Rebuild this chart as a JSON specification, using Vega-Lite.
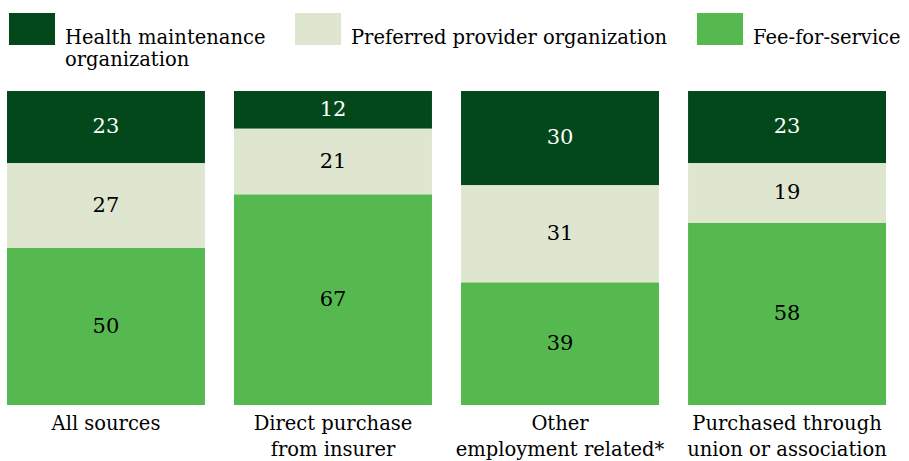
{
  "$schema": "https://vega.github.io/schema/vega-lite/v6.json",
  "width": 879,
  "height": 314,
  "autosize": {"type": "none"},
  "padding": {"left": 7, "top": 91, "right": 23, "bottom": 56},
  "config": {"view": {"stroke": null}, "font": "DejaVu Serif"},
  "data": {
    "values": [
      {"source": "All sources", "type": "Health maintenance organization", "rank": 3, "pct": 23},
      {"source": "All sources", "type": "Preferred provider organization", "rank": 2, "pct": 27},
      {"source": "All sources", "type": "Fee-for-service", "rank": 1, "pct": 50},
      {"source": "Direct purchase from insurer", "type": "Health maintenance organization", "rank": 3, "pct": 12},
      {"source": "Direct purchase from insurer", "type": "Preferred provider organization", "rank": 2, "pct": 21},
      {"source": "Direct purchase from insurer", "type": "Fee-for-service", "rank": 1, "pct": 67},
      {"source": "Other employment related*", "type": "Health maintenance organization", "rank": 3, "pct": 30},
      {"source": "Other employment related*", "type": "Preferred provider organization", "rank": 2, "pct": 31},
      {"source": "Other employment related*", "type": "Fee-for-service", "rank": 1, "pct": 39},
      {"source": "Purchased through union or association", "type": "Health maintenance organization", "rank": 3, "pct": 23},
      {"source": "Purchased through union or association", "type": "Preferred provider organization", "rank": 2, "pct": 19},
      {"source": "Purchased through union or association", "type": "Fee-for-service", "rank": 1, "pct": 58}
    ]
  },
  "transform": [
    {"stack": "pct", "groupby": ["source"], "sort": [{"field": "rank", "order": "ascending"}], "as": ["y0", "y1"]}
  ],
  "encoding": {
    "x": {
      "field": "source",
      "type": "nominal",
      "sort": ["All sources", "Direct purchase from insurer", "Other employment related*", "Purchased through union or association"],
      "scale": {"paddingInner": 0.128, "paddingOuter": 0},
      "axis": {
        "title": null,
        "domain": false,
        "ticks": false,
        "labelAngle": 0,
        "labelFont": "DejaVu Serif",
        "labelFontSize": 19.5,
        "labelColor": "black",
        "labelPadding": 9,
        "labelBaseline": "top",
        "labelLineHeight": 26,
        "labelLimit": 0,
        "labelOverlap": false,
        "labelExpr": "datum.label == 'Direct purchase from insurer' ? ['Direct purchase','from insurer'] : datum.label == 'Other employment related*' ? ['Other','employment related*'] : datum.label == 'Purchased through union or association' ? ['Purchased through','union or association'] : datum.label"
      }
    }
  },
  "layer": [
    {
      "mark": {"type": "bar"},
      "encoding": {
        "y": {"field": "y1", "type": "quantitative", "scale": {"domain": [0, 100]}, "axis": null},
        "y2": {"field": "y0"},
        "color": {
          "field": "type",
          "type": "nominal",
          "scale": {
            "domain": ["Health maintenance organization", "Preferred provider organization", "Fee-for-service"],
            "range": ["#02481b", "#dfe6d0", "#55b94f"]
          },
          "legend": {
            "title": null,
            "orient": "none",
            "legendX": 2,
            "legendY": -85,
            "direction": "horizontal",
            "symbolType": "M-1,-0.696H1V0.696H-1Z",
            "symbolSize": 2116,
            "symbolStrokeWidth": 0,
            "symbolOpacity": 1,
            "labelFont": "DejaVu Serif",
            "labelFontSize": 19.5,
            "labelColor": "black",
            "labelOffset": 10,
            "labelLimit": 0,
            "labelBaseline": "top",
            "labelLineHeight": 26,
            "columnPadding": 29,
            "labelExpr": "datum.label == 'Health maintenance organization' ? ['Health maintenance','organization'] : [datum.label, '']"
          }
        }
      }
    },
    {
      "transform": [{"fold": ["y0", "y1"], "as": ["edge", "edgeValue"]}],
      "mark": {"type": "text", "fontSize": 21, "font": "DejaVu Serif"},
      "encoding": {
        "y": {"field": "edgeValue", "aggregate": "mean", "type": "quantitative", "scale": {"domain": [0, 100]}, "axis": null},
        "detail": {"field": "type"},
        "text": {"field": "pct", "aggregate": "max", "type": "quantitative"},
        "color": {
          "condition": {"test": "datum.type == 'Health maintenance organization'", "value": "white"},
          "value": "black"
        }
      }
    }
  ]
}
